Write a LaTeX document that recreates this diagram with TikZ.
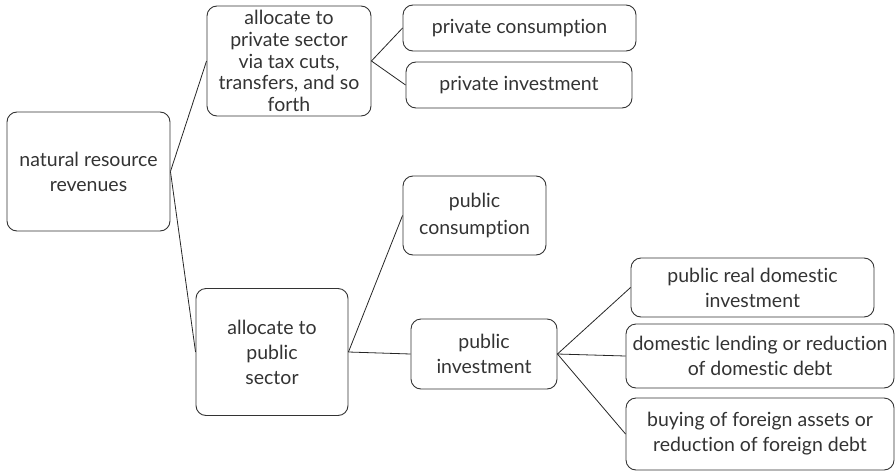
\documentclass[tikz,border=0pt]{standalone}
\usepackage{fontspec}
\setmainfont{Lato}[Ligatures={NoCommon}]
\begin{document}
\begin{tikzpicture}[x=1pt,y=-1pt,
  box/.style={draw=black!80, line width=0.9pt, rounded corners=10pt, align=center,
    inner sep=0pt, text=black!80, font=\fontsize{19.5}{25}\selectfont},
  tight/.style={font=\fontsize{19.5}{21.7}\selectfont},
  conn/.style={draw=black!85, line width=0.8pt}]
\useasboundingbox (0,0) rectangle (896,471);
\node[box, minimum width=163pt, minimum height=119pt] (nat) at (88.5,171.5) {natural resource\\revenues};
\node[box, tight, minimum width=164pt, minimum height=110pt] (priv) at (289,61) {allocate to\\private sector\\via tax cuts,\\transfers, and so\\forth};
\node[box, minimum width=233pt, minimum height=46pt] (pcons) at (519.5,28) {private consumption};
\node[box, minimum width=226pt, minimum height=46pt] (pinv) at (519,85) {private investment};
\node[box, minimum width=152pt, minimum height=127pt] (pub) at (272,352) {allocate to\\public\\sector};
\node[box, font=\fontsize{19.5}{27}\selectfont, minimum width=143pt, minimum height=79pt] (gcons) at (474.5,215.5) {public\\consumption};
\node[box, minimum width=146pt, minimum height=70pt] (ginv) at (484,354) {public\\investment};
\node[box, minimum width=243pt, minimum height=59pt] (prdi) at (752.5,287.5) {public real domestic\\investment};
\node[box, minimum width=268pt, minimum height=64pt] (dlend) at (760,356) {domestic lending or reduction\\of domestic debt};
\node[box, minimum width=268pt, minimum height=72pt] (buy) at (760,434) {buying of foreign assets or\\reduction of foreign debt};
\draw[conn] (nat.east) -- (priv.west);
\draw[conn] (nat.east) -- (pub.west);
\draw[conn] (priv.east) -- (pcons.west);
\draw[conn] (priv.east) -- (pinv.west);
\draw[conn] (pub.east) -- (gcons.west);
\draw[conn] (pub.east) -- (ginv.west);
\draw[conn] (ginv.east) -- (prdi.west);
\draw[conn] (ginv.east) -- (dlend.west);
\draw[conn] (ginv.east) -- (buy.west);
\end{tikzpicture}
\end{document}
